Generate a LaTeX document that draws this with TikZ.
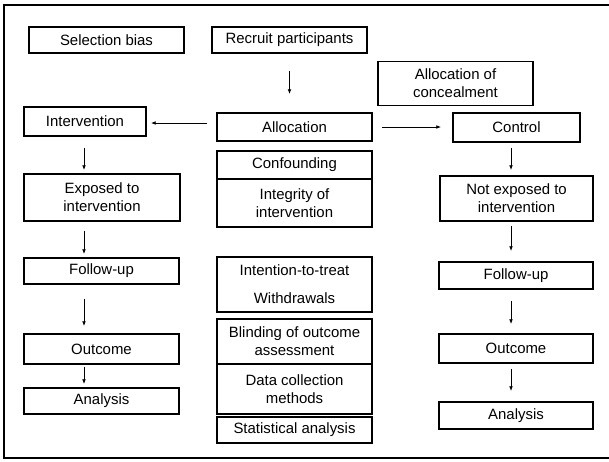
\documentclass[tikz,border=0pt]{standalone}
\usepackage{fontspec}
\setmainfont{Liberation Sans}
\usetikzlibrary{arrows.meta, calc}
\definecolor{ink}{HTML}{000000}
\newcommand{\rtfont}{\fontsize{11.2}{13.5}\selectfont}
\tikzset{
  every node/.style = {font=\rtfont, text=ink},
  rtbox/.style   = {draw=ink, line width=1.4pt, fill=white, align=center, inner sep=1pt,
                    minimum width=116.25pt, minimum height=19.5pt},
  rtgo/.style    = {-{Latex[length=3.6pt,width=2.8pt]}, draw=ink, line width=0.6pt},
  rtframe/.style = {draw=ink, line width=1.5pt},
}

\begin{document}
\begin{tikzpicture}[x=0.75pt, y=-0.75pt]
\useasboundingbox (0,0) rectangle (609,461);
\draw[rtframe] (609,5) -- (4,5) -- (4,458) -- (609,458);

% top row
\node[rtbox] (sel) at (106.5,40) {Selection bias};
\node[rtbox] (rec) at (289.5,40) {Recruit participants};
\node[rtbox, minimum height=33pt] (conc) at (455.5,83.5) {Allocation of\\concealment};

% allocation and the two arms
\node[rtbox, minimum width=91.5pt, minimum height=21.75pt] (int) at (85,121.5) {Intervention};
\node[rtbox, minimum height=21pt] (alloc) at (294.5,127) {Allocation};
\node[rtbox, minimum width=95.25pt, minimum height=21.75pt] (ctrl) at (516.5,127.5) {Control};

% intervention arm
\node[rtbox, minimum width=117pt, minimum height=35.25pt] (expo) at (102,197.5) {Exposed to\\intervention};
\foreach \n/\y/\h/\ttl in {fuL/271/19.5pt/Follow-up, outL/349/22.5pt/Outcome, anL/401/19.5pt/Analysis}{
  \node[rtbox, minimum height=\h] (\n) at (101.5,\y) {\ttl};
}

% control arm
\node[rtbox, minimum width=114.75pt, minimum height=33.75pt] (nexpo) at (516.5,198.5) {Not exposed to\\intervention};
\foreach \n/\y/\h/\ttl in {fuR/275.5/20.25pt/Follow-up, outR/348.5/21.75pt/Outcome, anR/415.5/20.25pt/Analysis}{
  \node[rtbox, minimum width=115.5pt, minimum height=\h] (\n) at (516,\y) {\ttl};
}

% sources of bias
\foreach \n/\y/\h/\ttl in {%
  conf/165/21pt/{Confounding},
  integ/203/36pt/{Integrity of\\intervention},
  itt/284.5/41.25pt/{Intention-to-treat\\[7.5pt]Withdrawals},
  blind/341.5/33.75pt/{Blinding of outcome\\assessment},
  data/389/37.5pt/{Data collection\\methods},
  stat/430/19.5pt/{Statistical analysis}%
}{
  \node[rtbox, minimum height=\h] (\n) at (294.5,\y) {\ttl};
}

% connectors
\coordinate (lcol) at (84,0);
\coordinate (rcol) at (511,0);
\draw[rtgo, shorten <=12.75pt, shorten >=13.5pt] (rec.south) -- (rec.south |- alloc.north);
\draw[rtgo, shorten <=6.75pt, shorten >=3pt] ([yshift=3pt]alloc.west) -- ([yshift=3pt]alloc.west -| int.east);
\draw[rtgo, shorten <=6.75pt, shorten >=8.25pt] (alloc.east) -- (alloc.east -| ctrl.west);
\foreach \a/\b/\s/\e in {int/expo/8.25pt/2.25pt, expo/fuL/6.75pt/2.25pt,
                         fuL/outL/10.5pt/5.25pt, outL/anL/1.5pt/2.25pt}{
  \draw[rtgo, shorten <=\s, shorten >=\e] (lcol |- \a.south) -- (lcol |- \b.north);
}
\foreach \a/\b/\s/\e in {ctrl/nexpo/3.75pt/3.75pt, nexpo/fuR/3pt/7.5pt,
                         fuR/outR/8.25pt/6.75pt, outR/anR/3.75pt/7.5pt}{
  \draw[rtgo, shorten <=\s, shorten >=\e] (rcol |- \a.south) -- (rcol |- \b.north);
}
\end{tikzpicture}
\end{document}
